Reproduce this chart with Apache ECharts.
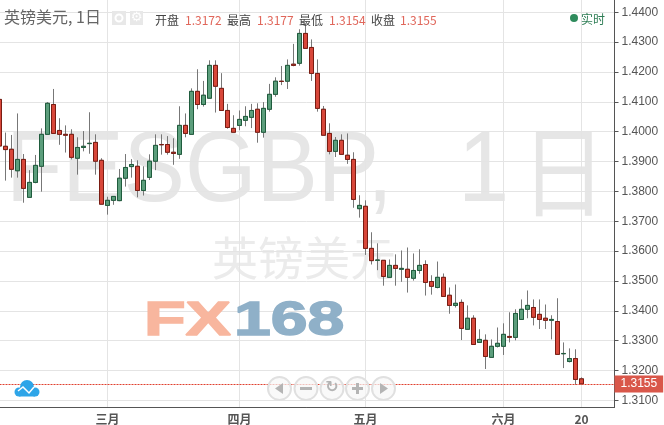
<!DOCTYPE html>
<html>
<head>
<meta charset="utf-8">
<style>
html,body{margin:0;padding:0;background:#fff;}
#chart{width:664px;height:425px;}
</style>
<script src="https://cdn.jsdelivr.net/npm/echarts@6/dist/echarts.min.js"></script>
</head>
<body>
<div id="chart"></div>
<script>
const opens = [1.4108,1.3951,1.3941,1.3869,1.3907,1.3780,1.3830,1.3884,1.3991,1.4091,
  1.4004,1.3991,1.3991,1.3911,1.3947,1.3960,1.3964,1.3904,1.3753,1.3770,
  1.3769,1.3844,1.3883,1.3884,1.3803,1.3847,1.3901,1.3957,1.3957,1.3931,
  1.3924,1.4021,1.3991,1.4135,1.4091,1.4112,1.4222,1.4145,1.4071,1.4011,
  1.4021,1.4038,1.4048,1.4075,1.3998,1.4075,1.4125,1.4169,1.4169,1.4226,
  1.4229,1.4329,1.4282,1.4195,1.4075,1.3994,1.3934,1.3971,1.3921,1.3907,
  1.3742,1.3750,1.3609,1.3569,1.3569,1.3512,1.3552,1.3539,1.3539,1.3509,
  1.3535,1.3555,1.3498,1.3478,1.3512,1.3452,1.3418,1.3428,1.3338,1.3375,
  1.3294,1.3301,1.3244,1.3281,1.3281,1.3314,1.3311,1.3371,1.3405,1.3411,
  1.3388,1.3375,1.3368,1.3364,1.3256,1.3230,1.3240,1.3172];
const closes = [1.3952,1.3940,1.3874,1.3907,1.3810,1.3830,1.3887,1.3991,1.4095,1.3994,
  1.3991,1.3988,1.3914,1.3947,1.3951,1.3961,1.3901,1.3757,1.3770,1.3783,
  1.3844,1.3880,1.3890,1.3803,1.3837,1.3901,1.3954,1.3956,1.3931,1.3927,
  1.4021,1.3994,1.4135,1.4091,1.4122,1.4222,1.4152,1.4071,1.4014,1.3998,
  1.4041,1.4051,1.4071,1.3998,1.4078,1.4125,1.4169,1.4168,1.4222,1.4222,
  1.4329,1.4279,1.4195,1.4078,1.3988,1.3934,1.3971,1.3924,1.3907,1.3773,
  1.3753,1.3609,1.3568,1.3570,1.3515,1.3552,1.3542,1.3542,1.3512,1.3535,
  1.3552,1.3495,1.3482,1.3512,1.3448,1.3418,1.3425,1.3341,1.3375,1.3287,
  1.3304,1.3247,1.3281,1.3291,1.3321,1.3311,1.3391,1.3405,1.3418,1.3378,
  1.3371,1.3368,1.3371,1.3254,1.3257,1.3240,1.3170,1.3155];
const lows = [1.3952,1.3836,1.3846,1.3846,1.3762,1.3780,1.3827,1.3799,1.3991,1.3994,
  1.3956,1.3930,1.3907,1.3856,1.3934,1.3926,1.3856,1.3757,1.3722,1.3755,
  1.3767,1.3816,1.3846,1.3780,1.3786,1.3838,1.3871,1.3923,1.3923,1.3889,
  1.3909,1.3981,1.3991,1.4075,1.4084,1.4112,1.4064,1.4071,1.4010,1.3998,
  1.4005,1.4018,1.4012,1.3963,1.3980,1.4067,1.4117,1.4156,1.4143,1.4219,
  1.4221,1.4279,1.4170,1.4067,1.3988,1.3924,1.3915,1.3922,1.3892,1.3745,
  1.3712,1.3587,1.3555,1.3536,1.3484,1.3512,1.3484,1.3497,1.3461,1.3501,
  1.3524,1.3451,1.3454,1.3475,1.3448,1.3390,1.3411,1.3302,1.3338,1.3287,
  1.3294,1.3205,1.3244,1.3277,1.3252,1.3294,1.3301,1.3371,1.3375,1.3351,
  1.3339,1.3339,1.3304,1.3254,1.3208,1.3227,1.3152,1.3154];
const highs = [1.4108,1.3997,1.3989,1.4061,1.3925,1.3871,1.3922,1.4011,1.4099,1.4143,
  1.4045,1.4021,1.4008,1.3981,1.4002,1.4065,1.3991,1.3911,1.3782,1.3783,
  1.3875,1.3925,1.3908,1.3904,1.3884,1.3924,1.3991,1.3991,1.3985,1.3978,
  1.4085,1.4061,1.4145,1.4209,1.4170,1.4239,1.4239,1.4196,1.4093,1.4055,
  1.4071,1.4085,1.4093,1.4095,1.4099,1.4160,1.4182,1.4220,1.4242,1.4294,
  1.4343,1.4363,1.4309,1.4242,1.4086,1.4028,1.3982,1.3991,1.3994,1.3931,
  1.3787,1.3770,1.3663,1.3626,1.3569,1.3572,1.3589,1.3602,1.3612,1.3592,
  1.3606,1.3569,1.3519,1.3565,1.3525,1.3478,1.3488,1.3438,1.3418,1.3385,
  1.3338,1.3321,1.3304,1.3344,1.3358,1.3395,1.3405,1.3438,1.3468,1.3438,
  1.3438,1.3421,1.3385,1.3442,1.3294,1.3274,1.3271,1.3177];
const priceTicks = [1.31,1.32,1.33,1.34,1.35,1.36,1.37,1.38,1.39,1.40,1.41,1.42,1.43,1.44];
const dateLabels = {18:'三月',40:'四月',61:'五月',84:'六月',97:'20'};
const slotCount = 103;
const lastPrice = 1.3155;

const categories = [];
for(let i = 0; i < slotCount; i++){
  categories.push(dateLabels[i] || '');
}
const wickData = opens.map((o, i) => [o, closes[i], lows[i], highs[i]]);
const bodyData = opens.map((o, i) => [o, closes[i], Math.min(o, closes[i]), Math.max(o, closes[i])]);
const hasLabel = (i) => !!dateLabels[i];

const chart = echarts.init(document.getElementById('chart'));

const glyphColor = '#b4b4b4';
const btn = (cx) => ({type:'circle', z:100, shape:{cx:cx, cy:388.5, r:11.5}, style:{fill:'rgba(246,246,246,0.7)', stroke:'#e0e0e0', lineWidth:2}});
const headText = (x, text, color) => ({type:'text', z:50, x:x, y:20, style:{text:text, fill:color, font:'12px "Noto Sans CJK SC", "Liberation Sans"', verticalAlign:'middle'}});

chart.setOption({
  animation: false,
  backgroundColor: '#fff',
  grid: {left: -3.5, top: 0, width: 618, height: 407.5, outerBoundsMode: 'none'},
  xAxis: {
    type: 'category',
    data: categories,
    axisLine: {lineStyle: {color: '#555'}},
    axisTick: {alignWithLabel: true, interval: hasLabel, length: 3, lineStyle: {color: '#555'}},
    axisLabel: {interval: hasLabel, color: '#555', fontSize: 12, margin: 6, fontFamily: '"Noto Sans CJK SC", "Liberation Sans"', fontWeight: 'bold'},
    splitLine: {show: true, alignWithLabel: true, interval: hasLabel, lineStyle: {color: '#e4e4e4'}}
  },
  yAxis: {
    type: 'value',
    position: 'right',
    min: 1.3076,
    max: 1.4441,
    axisLine: {show: true, lineStyle: {color: '#555'}},
    axisTick: {show: true, length: 4, customValues: priceTicks, lineStyle: {color: '#555'}},
    axisLabel: {customValues: priceTicks, color: '#555', fontSize: 12, margin: 7, fontFamily: '"Liberation Sans"', formatter: v => v.toFixed(4)},
    splitLine: {show: true, lineStyle: {color: '#e4e4e4'}}
  },
  graphic: [
    {type:'text', z:0, x:6, y:173, scaleX:0.92, style:{text:'FESGBP,', fill:'#e6e6e6', font:'100px "Liberation Sans"', verticalAlign:'middle'}},
    {type:'text', z:0, x:458, y:173, scaleX:0.92, style:{text:'1', fill:'#e6e6e6', font:'100px "Liberation Sans"', verticalAlign:'middle'}},
    {type:'text', z:0, x:521, y:171, scaleX:0.85, style:{text:'日', fill:'#e6e6e6', font:'100px "Noto Sans CJK SC"', verticalAlign:'middle'}},
    {type:'text', z:0, x:212, y:258, style:{text:'英镑美元', fill:'#ebebeb', font:'46px "Noto Sans CJK SC"', verticalAlign:'middle'}},
    {type:'text', z:1, x:144, y:321, scaleX:1.39, style:{text:'FX', fill:'#f8b69e', stroke:'#f8b69e', lineWidth:1.5, font:'bold 49px "Liberation Sans"', verticalAlign:'middle'}},
    {type:'text', z:1, x:234, y:321, scaleX:1.35, style:{text:'168', fill:'#8fb0c8', stroke:'#8fb0c8', lineWidth:1.5, font:'bold 49px "Liberation Sans"', verticalAlign:'middle'}},
    {type:'text', z:50, x:4, y:17, style:{text:'英镑美元, 1日', fill:'#666', font:'16px "Noto Sans CJK SC", "Liberation Sans"', verticalAlign:'middle'}},
    {type:'rect', z:50, shape:{x:112, y:11, width:14, height:14}, style:{fill:'#e8e8e8'}},
    {type:'ring', z:51, shape:{cx:119, cy:18, r:4.5, r0:2.5}, style:{fill:'#fff'}},
    {type:'rect', z:50, shape:{x:130, y:11, width:13, height:14}, style:{fill:'#e8e8e8'}},
    {type:'text', z:51, x:136.5, y:18, style:{text:'⚙', fill:'#fff', font:'13px "DejaVu Sans"', align:'center', verticalAlign:'middle'}},
    headText(155, '开盘', '#444'),
    headText(185, '1.3172', '#e0665a'),
    headText(227, '最高', '#444'),
    headText(257, '1.3177', '#e0665a'),
    headText(299, '最低', '#444'),
    headText(329, '1.3154', '#e0665a'),
    headText(371, '收盘', '#444'),
    headText(400, '1.3155', '#e0665a'),
    {type:'circle', z:50, shape:{cx:574, cy:18, r:4}, style:{fill:'#2e8b5c'}},
    {type:'text', z:50, x:581, y:19, style:{text:'实时', fill:'#2e7d55', font:'12px "Noto Sans CJK SC"', verticalAlign:'middle'}},
    {type:'circle', z:60, shape:{cx:27, cy:387, r:7}, style:{fill:'#2ea5e8'}},
    {type:'circle', z:60, shape:{cx:19, cy:392, r:4.5}, style:{fill:'#2ea5e8'}},
    {type:'circle', z:60, shape:{cx:35, cy:392, r:4.5}, style:{fill:'#2ea5e8'}},
    {type:'rect', z:60, shape:{x:19, y:389, width:16, height:7.5}, style:{fill:'#2ea5e8'}},
    {type:'polyline', z:61, shape:{points:[[18,391],[23,387],[29,393],[34,387]]}, style:{stroke:'#fff', lineWidth:1.5, fill:null}},
    btn(279.5), btn(306), btn(332), btn(357.5), btn(383.5),
    {type:'polygon', z:101, shape:{points:[[275,388.5],[283,383],[283,394]]}, style:{fill:glyphColor}},
    {type:'rect', z:101, shape:{x:300, y:387, width:12, height:3}, style:{fill:glyphColor}},
    {type:'text', z:101, x:332, y:388, style:{text:'↻', fill:glyphColor, font:'bold 16px "DejaVu Sans"', align:'center', verticalAlign:'middle'}},
    {type:'rect', z:101, shape:{x:352, y:387, width:11, height:3}, style:{fill:glyphColor}},
    {type:'rect', z:101, shape:{x:356, y:383, width:3, height:11}, style:{fill:glyphColor}},
    {type:'polygon', z:101, shape:{points:[[388,388.5],[380,383],[380,394]]}, style:{fill:glyphColor}}
  ],
  series: [
    {
      name: 'wick',
      type: 'candlestick',
      data: wickData,
      barWidth: 4,
      silent: true,
      itemStyle: {color: '#777', color0: '#777', borderColor: '#777', borderColor0: '#777', borderWidth: 1}
    },
    {
      name: '英镑美元',
      type: 'candlestick',
      data: bodyData,
      barWidth: 4,
      itemStyle: {color: '#5c9e7c', color0: '#d8473a', borderColor: '#1f5c3d', borderColor0: '#7a1c12', borderWidth: 1},
      markLine: {
        silent: true,
        symbol: 'none',
        precision: 4,
        data: [{yAxis: lastPrice}],
        lineStyle: {color: '#e0402f', type: [2, 1], width: 1},
        label: {position: 'end', distance: 0, formatter: lastPrice.toFixed(4), color: '#fff', fontSize: 12, fontFamily: '"Liberation Sans"', backgroundColor: '#d9574a', padding: [3, 6, 2, 6]}
      }
    }
  ]
});
</script>
</body>
</html>
